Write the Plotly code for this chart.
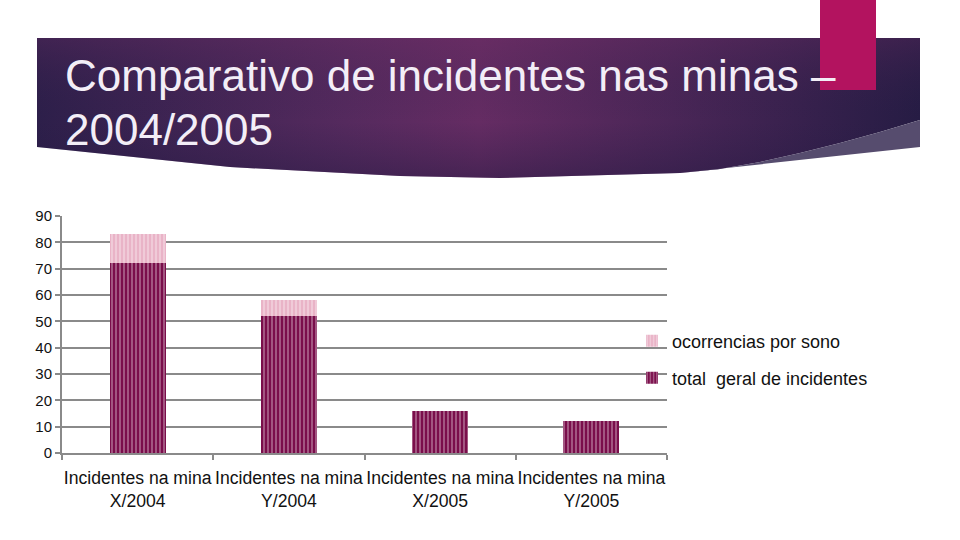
import plotly.graph_objects as go

categories = ["Incidentes na mina<br>X/2004", "Incidentes na mina<br>Y/2004",
              "Incidentes na mina<br>X/2005", "Incidentes na mina<br>Y/2005"]
total_geral = [72, 52, 16, 12]
ocorrencias_sono = [11, 6, 0, 0]
y_ticks = [0, 10, 20, 30, 40, 50, 60, 70, 80, 90]
title_lines = ["Comparativo de incidentes nas minas –", "2004/2005"]

DARK = "#7a0e4b"
PINK = "#e9b3c7"
FONT = "Liberation Sans"
W, H = 960, 540

fig = go.Figure()

fig.add_trace(go.Bar(
    x=categories, y=total_geral, name="total  geral de incidentes",
    marker=dict(color=DARK, line=dict(width=0),
                pattern=dict(shape="|", fgcolor="white", bgcolor=DARK,
                             size=4, solidity=0.3)),
    legend="legend2",
))
fig.add_trace(go.Bar(
    x=categories, y=ocorrencias_sono, name="ocorrencias por sono",
    marker=dict(color=PINK, line=dict(width=0),
                pattern=dict(shape="|", fgcolor="white", bgcolor=PINK,
                             size=4, solidity=0.3)),
    legend="legend",
))

# decorative header (pixel coordinates on a full-page overlay axis)
hx = [37, 920, 920, 880, 840, 800, 760, 720, 690, 680, 500, 400, 230, 37, 37]
hy = [38, 38, 120, 132, 143, 153, 162, 169, 172, 173, 178, 176, 167, 147, 38]
fig.add_trace(go.Scatter(
    x=hx, y=hy, mode="lines", fill="toself", line=dict(width=0),
    fillgradient=dict(type="horizontal",
                      colorscale=[[0, "#2d1f4a"], [0.35, "#552a5e"], [0.5, "#652c63"],
                                  [0.72, "#4a2657"], [1, "#261c44"]]),
    xaxis="x2", yaxis="y2", showlegend=False, hoverinfo="skip"))
fig.add_trace(go.Scatter(
    x=hx, y=hy, mode="lines", fill="toself", line=dict(width=0),
    fillgradient=dict(type="vertical",
                      colorscale=[[0, "rgba(35,25,65,0.45)"], [0.4, "rgba(40,28,70,0.0)"],
                                  [1, "rgba(110,45,100,0.3)"]]),
    xaxis="x2", yaxis="y2", showlegend=False, hoverinfo="skip"))
# light wedge
wx = [920, 880, 840, 800, 760, 720, 690, 680, 920, 920]
wy = [120, 132, 143, 153, 162, 169, 172, 173, 147, 120]
fig.add_trace(go.Scatter(
    x=wx, y=wy, mode="lines", fill="toself", line=dict(width=0),
    fillcolor="#564c6e", xaxis="x2", yaxis="y2", showlegend=False, hoverinfo="skip"))
# pink block
fig.add_trace(go.Scatter(
    x=[820, 876, 876, 820, 820], y=[0, 0, 90, 90, 0], mode="lines", fill="toself",
    line=dict(width=0), fillcolor="#b3135f", xaxis="x2", yaxis="y2",
    showlegend=False, hoverinfo="skip"))

fig.add_annotation(x=63, y=75, xref="x2", yref="y2", text=title_lines[0],
                   showarrow=False, xanchor="left", yanchor="middle",
                   font=dict(family=FONT, size=44, color="#f3eef7"))
fig.add_annotation(x=63, y=129, xref="x2", yref="y2", text=title_lines[1],
                   showarrow=False, xanchor="left", yanchor="middle",
                   font=dict(family=FONT, size=44, color="#f3eef7"))

fig.update_layout(
    width=W, height=H,
    margin=dict(l=0, r=0, t=0, b=0, autoexpand=False),
    paper_bgcolor="white", plot_bgcolor="rgba(0,0,0,0)",
    barmode="stack", bargap=0.63,
    font=dict(family=FONT, color="#111111"),
    xaxis=dict(domain=[62 / W, 667 / W], anchor="y", automargin=False,
               showgrid=False, showline=True, linecolor="#8a8a8a", linewidth=2,
               ticks="outside", tickson="boundaries", ticklen=5, tickcolor="#8a8a8a",
               tickwidth=2, tickangle=0, ticklabelstandoff=8,
               tickfont=dict(size=17.6, family=FONT, color="#111111")),
    yaxis=dict(domain=[1 - 453 / H, 1 - 216 / H], anchor="x", automargin=False,
               range=[0, 90], tickvals=y_ticks, showgrid=True, gridcolor="#8a8a8a",
               gridwidth=2, showline=True, linecolor="#8a8a8a", linewidth=2,
               ticks="outside", ticklen=5, tickcolor="#8a8a8a", tickwidth=2,
               zeroline=False, tickfont=dict(size=15, family=FONT, color="#111111")),
    xaxis2=dict(domain=[0, 1], range=[0, W], visible=False, fixedrange=True,
                anchor="y2"),
    yaxis2=dict(domain=[0, 1], range=[H, 0], visible=False, fixedrange=True,
                anchor="x2"),
    legend=dict(xref="container", yref="container", x=632 / W, y=1 - 341 / H,
                xanchor="left", yanchor="middle", bgcolor="rgba(0,0,0,0)",
                font=dict(size=18, family=FONT, color="#111111"),
                itemwidth=30, tracegroupgap=0),
    legend2=dict(xref="container", yref="container", x=632 / W, y=1 - 378 / H,
                 xanchor="left", yanchor="middle", bgcolor="rgba(0,0,0,0)",
                 font=dict(size=18, family=FONT, color="#111111"),
                 itemwidth=30, tracegroupgap=0),
    showlegend=True,
)

fig.write_html("out.html", config={"displayModeBar": False},
               post_script="document.body.style.margin='0px';document.body.style.overflow='hidden';")
